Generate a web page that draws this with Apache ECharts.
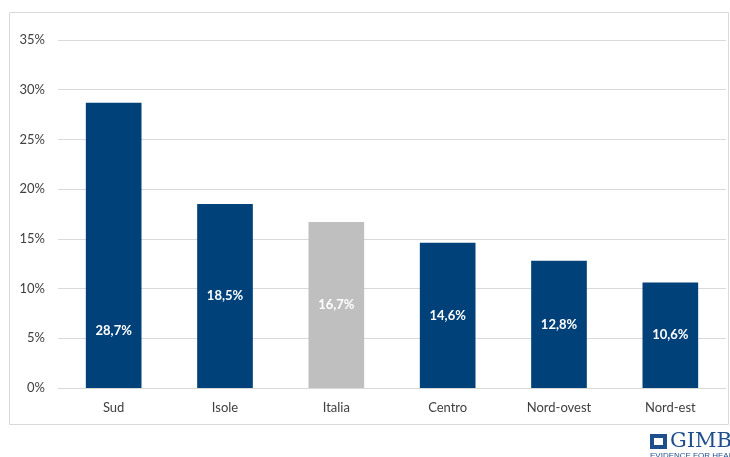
<!DOCTYPE html>
<html><head><meta charset="utf-8">
<script src="https://cdn.jsdelivr.net/npm/echarts@6/dist/echarts.min.js"></script>
<style>html,body{margin:0;padding:0;background:#fff}#c{width:730px;height:457px}</style>
</head><body><div id="c"></div>
<script>
const categories = ['Sud', 'Isole', 'Italia', 'Centro', 'Nord-ovest', 'Nord-est'];
const values = [28.7, 18.5, 16.7, 14.6, 12.8, 10.6];
const highlight = 'Italia';
const tickMax = 35, tickStep = 5;

const chart = echarts.init(document.getElementById('c'));
const FONT = 'Lato, "Open Sans", sans-serif';
const data = values.map((v, i) => {
  const item = { value: v, itemStyle: { color: categories[i] === highlight ? '#BFBFBF' : '#00417A' } };
  if (i === 0) item.label = { position: ['50%', '80%'], align: 'center', verticalAlign: 'middle' };
  return item;
});
chart.setOption({
  animation: false,
  grid: { left: 58, right: 4, top: 40, bottom: 69, containLabel: false },
  xAxis: {
    type: 'category', data: categories,
    axisLine: { lineStyle: { color: '#D9D9D9' } },
    axisTick: { show: false },
    axisLabel: { color: '#404040', fontSize: 13, fontFamily: FONT, margin: 13 }
  },
  yAxis: {
    type: 'value', min: 0, max: tickMax, interval: tickStep,
    axisLine: { show: false }, axisTick: { show: false },
    splitLine: { lineStyle: { color: '#D9D9D9' } },
    axisLabel: { color: '#404040', fontSize: 13, fontFamily: FONT, margin: 13, formatter: '{value}%' }
  },
  series: [{
    type: 'bar', data: data, barWidth: '50%',
    label: {
      show: true, position: 'inside', color: '#fff', fontWeight: 'bold', fontSize: 13, fontFamily: FONT,
      formatter: p => p.value.toFixed(1).replace('.', ',') + '%'
    }
  }],
  graphic: [
    { type: 'rect', shape: { x: 9.5, y: 12.5, width: 719, height: 412 }, style: { fill: 'none', stroke: '#D9D9D9', lineWidth: 1 }, silent: true },
    { type: 'group', left: 650, top: 431, children: [
      { type: 'rect', shape: { x: 0, y: 0, width: 17, height: 15 }, style: { fill: '#1F4E8C' } },
      { type: 'rect', shape: { x: 4, y: 4, width: 9, height: 7 }, style: { fill: '#fff' } },
      { type: 'text', style: { x: 20, y: -3, text: 'GIMBE', fill: '#1F4E8C', font: '21px "DejaVu Serif", serif' } },
      { type: 'text', style: { x: 0, y: 18, text: 'EVIDENCE FOR HEALTH', fill: '#1F4E8C', font: '8px "Liberation Sans", sans-serif' } }
    ] }
  ]
});
</script></body></html>
